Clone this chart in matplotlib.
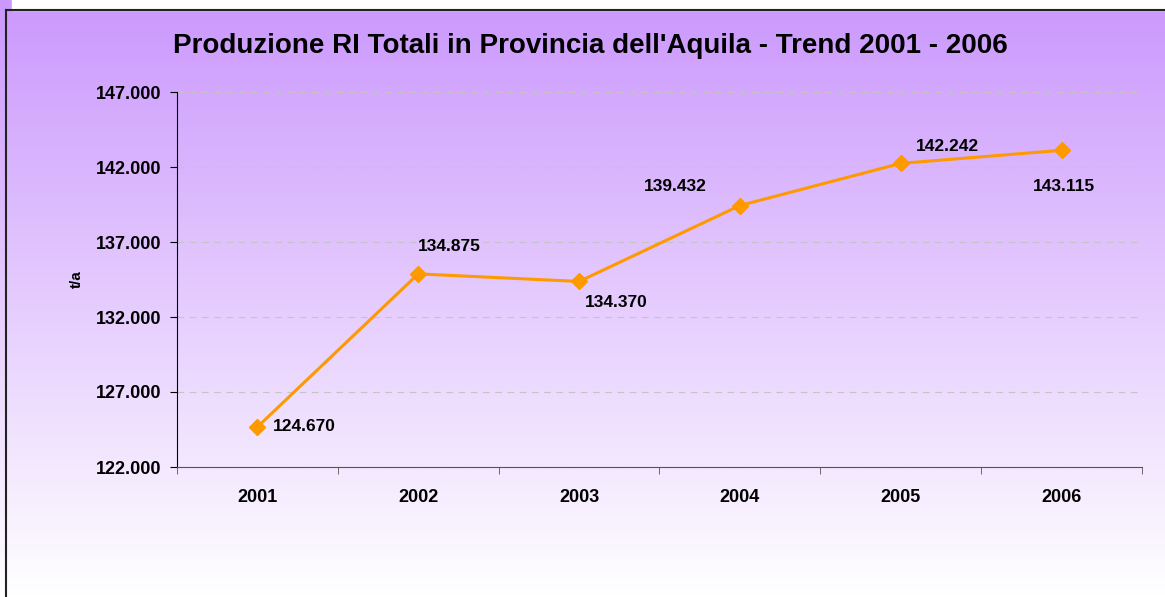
import matplotlib
matplotlib.use("Agg")
import matplotlib.pyplot as plt
import numpy as np
from matplotlib.colors import LinearSegmentedColormap

# dati
anni = ['2001', '2002', '2003', '2004', '2005', '2006']
produzione = [124670, 134875, 134370, 139432, 142242, 143115]
etichette = ['124.670', '134.875', '134.370', '139.432', '142.242', '143.115']
y_ticks = [122000, 127000, 132000, 137000, 142000, 147000]
y_tick_labels = ['122.000', '127.000', '132.000', '137.000', '142.000', '147.000']

# posizione etichette (offset in punti rispetto al marker)
offsets = [(11, 0, 'left', 'center'), (0, 20, 'left', 'center'),
           (4, -15, 'left', 'center'), (-24, 14, 'right', 'center'),
           (11, 12, 'left', 'center'), (2, -26, 'center', 'center')]

plt.rcParams['font.family'] = ['Liberation Sans', 'DejaVu Sans']

fig = plt.figure(figsize=(11.65, 5.97), dpi=100)

# sfondo sfumato
bg = fig.add_axes([0, 0, 1, 1], zorder=-10)
cmap = LinearSegmentedColormap.from_list('viola', ['#FFFFFF', '#CB98FD'])
grad = np.linspace(0, 1, 256).reshape(-1, 1)
bg.imshow(grad, aspect='auto', cmap=cmap, extent=[0, 1165, 0, 597], origin='lower')
bg.fill_between([12, 1165], 587, 597, color='white')
bg.plot([6, 6], [0, 587], color='#222222', lw=1.5)
bg.plot([6, 1165], [587, 587], color='#222222', lw=1.5)
bg.set_xlim(0, 1165)
bg.set_ylim(0, 597)
bg.axis('off')

ax = fig.add_axes([177 / 1165, 1 - 467 / 597, (1142 - 177) / 1165, (467 - 92) / 597])
ax.patch.set_alpha(0)

x = np.arange(len(anni))
ax.plot(x, produzione, color='#FF9900', lw=2.2, marker='D', markersize=8, zorder=3)

for xi, v, lab, (dx, dy, ha, va) in zip(x, produzione, etichette, offsets):
    ax.annotate(lab, (xi, v), xytext=(dx, dy), textcoords='offset points',
                ha=ha, va=va, fontsize=12.5, fontweight='bold', color='black')

ax.set_xlim(-0.5, len(anni) - 0.5)
ax.set_ylim(122000, 147000)
ax.set_yticks(y_ticks)
ax.set_yticklabels(y_tick_labels, fontsize=13, fontweight='bold')
ax.set_xticks(x)
ax.set_xticklabels(anni, fontsize=13, fontweight='bold')
ax.set_xticks(np.arange(-0.5, len(anni)), minor=True)
ax.tick_params(axis='x', which='major', length=0, pad=16)
ax.tick_params(axis='x', which='minor', length=5, color='#555555')
ax.tick_params(axis='y', length=5, pad=6)
ax.grid(axis='y', color='#C4C4C4', linestyle=(0, (6, 5)), lw=0.8)

for s in ['top', 'right']:
    ax.spines[s].set_visible(False)
ax.spines['bottom'].set_color('#555555')
ax.spines['left'].set_color('black')

ax.set_ylabel('t/a', fontsize=11, fontweight='bold', labelpad=9)
fig.text(590 / 1165, 1 - 46 / 597, "Produzione RI Totali in Provincia dell'Aquila - Trend 2001 - 2006",
         ha='center', va='center', fontsize=20, fontweight='bold')

fig.savefig('out.png', dpi=100)
